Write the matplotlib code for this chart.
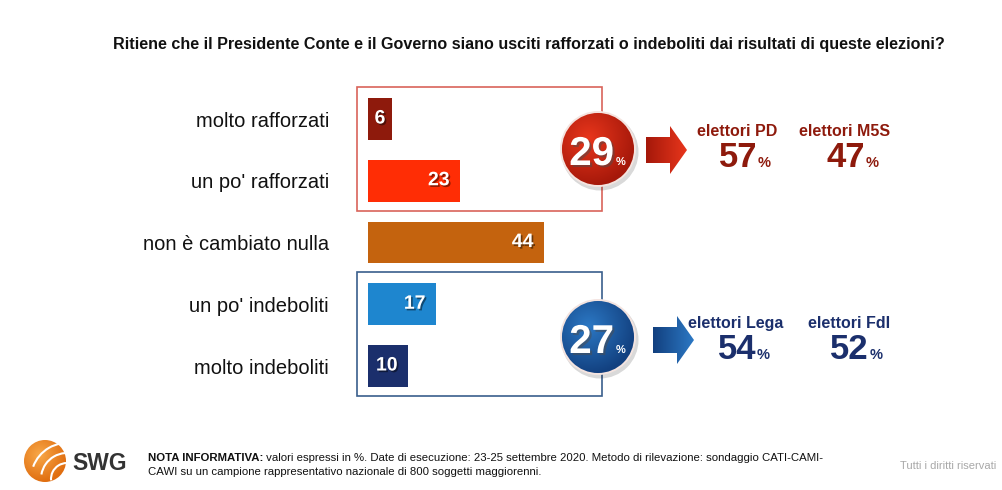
import matplotlib
matplotlib.use("Agg")
import matplotlib.pyplot as plt
import matplotlib.patheffects as pe
from matplotlib.patches import Rectangle, Circle, Arc, Polygon
from matplotlib.colors import to_rgb
import numpy as np

plt.rcParams['font.family'] = ['Liberation Sans', 'DejaVu Sans']

# ---- data ----
categories = ["molto rafforzati", "un po' rafforzati", "non è cambiato nulla",
              "un po' indeboliti", "molto indeboliti"]
values = [6, 23, 44, 17, 10]
bar_colors = ["#8E1A0C", "#FF2D05", "#C4630E", "#1E86CF", "#1B2F6C"]
title = "Ritiene che il Presidente Conte e il Governo siano usciti rafforzati o indeboliti dai risultati di queste elezioni?"
group_totals = [29, 27]
group_voters = [["elettori PD", "elettori M5S"], ["elettori Lega", "elettori FdI"]]
group_voter_values = [[57, 47], [54, 52]]
group_light = ["#E8361C", "#2C78C4"]
group_dark = ["#A5180A", "#12407F"]
group_text_colors = ["#8E1A0C", "#1B2F6C"]
group_box_colors = ["#D9645A", "#3A5F8C"]
note_bold = "NOTA INFORMATIVA:"
note_text = " valori espressi in %. Date di esecuzione: 23-25 settembre 2020. Metodo di rilevazione: sondaggio CATI-CAMI-"
note_text2 = "CAWI su un campione rappresentativo nazionale di 800 soggetti maggiorenni."
rights = "Tutti i diritti riservati"

W, H = 1002, 490
fig = plt.figure(figsize=(W / 100, H / 100), dpi=100)

# overlay in pixel coordinates
ov = fig.add_axes([0, 0, 1, 1])
ov.set_xlim(0, W)
ov.set_ylim(H, 0)
ov.axis("off")

# bar axes: 4 px per unit, rows 61.75 px apart
row_px = 61.75
x0_px = 368
top_px = 119 - row_px / 2
ax = fig.add_axes([x0_px / W, 1 - (top_px + 5 * row_px) / H, 400 / W, 5 * row_px / H])
ax.patch.set_alpha(0)
ax.set_xlim(0, 100)
ax.set_ylim(4.5, -0.5)
for s in ax.spines.values():
    s.set_visible(False)
ypos = np.arange(len(categories))
ax.barh(ypos, values, height=0.68, color=bar_colors, zorder=3)
ax.set_yticks(ypos)
ax.set_yticklabels(categories, fontsize=14.5, color="#111111")
ax.tick_params(axis="y", length=0, pad=28)
ax.set_xticks([])

shadow = [pe.SimplePatchShadow(offset=(1.2, -1.2), shadow_rgbFace="black", alpha=0.45), pe.Normal()]
for y, v in zip(ypos, values):
    if v < 10:
        ax.text(v / 2, y, str(v), ha="center", va="center", color="white",
                fontsize=14, fontweight="bold", path_effects=shadow, zorder=4)
    else:
        ax.text(v - 2.6, y, str(v), ha="right", va="center", color="white",
                fontsize=14, fontweight="bold", path_effects=shadow, zorder=4)

# title
ov.text(529, 44, title, ha="center", va="center", fontsize=11.6, fontweight="bold", color="#111111")


def radial(cx, cy, r, light, dark, zorder):
    n = 120
    yy, xx = np.mgrid[0:n, 0:n]
    px = cx - r + (xx + 0.5) * 2 * r / n
    py = cy - r + (yy + 0.5) * 2 * r / n
    d = np.hypot(px - (cx - 0.25 * r), py - (cy - 0.3 * r)) / (1.3 * r)
    d = np.clip(d, 0, 1)[..., None]
    img = np.array(to_rgb(light)) * (1 - d) + np.array(to_rgb(dark)) * d
    clip = Circle((cx, cy), r, transform=ov.transData)
    im = ov.imshow(img, extent=(cx - r, cx + r, cy + r, cy - r), origin="upper",
                   zorder=zorder, interpolation="bilinear")
    im.set_clip_path(clip)


def arrow(x, cy, light, dark):
    pts = [(x, cy - 13), (x + 24, cy - 13), (x + 24, cy - 24),
           (x + 41, cy), (x + 24, cy + 24), (x + 24, cy + 13), (x, cy + 13)]
    n = 60
    img = np.array([np.array(to_rgb(dark)) * (1 - t) + np.array(to_rgb(light)) * t
                    for t in np.linspace(0, 1, n)])[None, :, :].repeat(4, axis=0)
    poly = Polygon(pts, closed=True, transform=ov.transData)
    im = ov.imshow(img, extent=(x, x + 41, cy + 24, cy - 24), origin="upper",
                   zorder=3, interpolation="bilinear")
    im.set_clip_path(poly)


# group boxes, circles, arrows, voter texts
box_y = [87, 272]
circ_c = [(598, 149), (598, 337)]
arrow_pos = [(646, 150), (653, 340)]
voter_x = [[737, 845], [736, 849]]
voter_y = [131, 323]
for g in range(2):
    ov.add_patch(Rectangle((357, box_y[g]), 245, 124, fill=False,
                           edgecolor=group_box_colors[g], lw=1.2, zorder=1))
    cx, cy = circ_c[g]
    r = 37
    ov.add_patch(Circle((cx + 2, cy + 3), r + 1.5, color="black", alpha=0.15, zorder=2, lw=0))
    radial(cx, cy, r, group_light[g], group_dark[g], 3)
    ov.add_patch(Circle((cx, cy), r, facecolor="none", edgecolor="#F4E4E0", lw=1.4, zorder=4))
    ov.text(cx + 16, cy + 16, str(group_totals[g]), ha="right", va="baseline",
            fontsize=29, fontweight="bold", color="white", zorder=5,
            path_effects=[pe.SimplePatchShadow(offset=(1.5, -1.5), alpha=0.5), pe.Normal()])
    ov.text(cx + 18, cy + 16, "%", ha="left", va="baseline", fontsize=8,
            fontweight="bold", color="white", zorder=5)
    arrow(arrow_pos[g][0], arrow_pos[g][1], group_light[g], group_dark[g])
    for k in range(2):
        vx = voter_x[g][k]
        ov.text(vx, voter_y[g], group_voters[g][k], ha="center", va="center",
                fontsize=11.5, fontweight="bold", color=group_text_colors[g])
        ov.text(vx + 20, voter_y[g] + 36, str(group_voter_values[g][k]), ha="right",
                va="baseline", fontsize=25, fontweight="bold", color=group_text_colors[g])
        ov.text(vx + 21, voter_y[g] + 36, "%", ha="left", va="baseline",
                fontsize=10.5, fontweight="bold", color=group_text_colors[g])

# footer logo
lx, ly, lr = 45, 461, 21
radial(lx, ly, lr, "#F8A848", "#E06E10", 2)
for rr, t1, t2 in [(16, 175, 300), (26, 190, 290), (36, 200, 280)]:
    a = Arc((lx + 22, ly + 18), 2 * rr, 2 * rr, theta1=t1, theta2=t2,
            color="white", lw=1.5, zorder=3)
    ov.add_patch(a)
    a.set_clip_path(Circle((lx, ly), lr + 2, transform=ov.transData))
ov.text(72, 463, "SWG", ha="left", va="center", fontsize=16.5, fontweight="bold", color="#333333")

fs_note = 8.2
tb = ov.text(148, 458, note_bold, ha="left", va="center", fontsize=fs_note,
             fontweight="bold", color="#111111")
fig.canvas.draw()
bb = tb.get_window_extent()
ov.text(bb.x1, 458, note_text, ha="left", va="center", fontsize=fs_note, color="#111111")
ov.text(148, 472, note_text2, ha="left", va="center", fontsize=fs_note, color="#111111")
ov.text(996, 466, rights, ha="right", va="center", fontsize=8, color="#A8A8A8")

fig.savefig("out.png", dpi=100)
